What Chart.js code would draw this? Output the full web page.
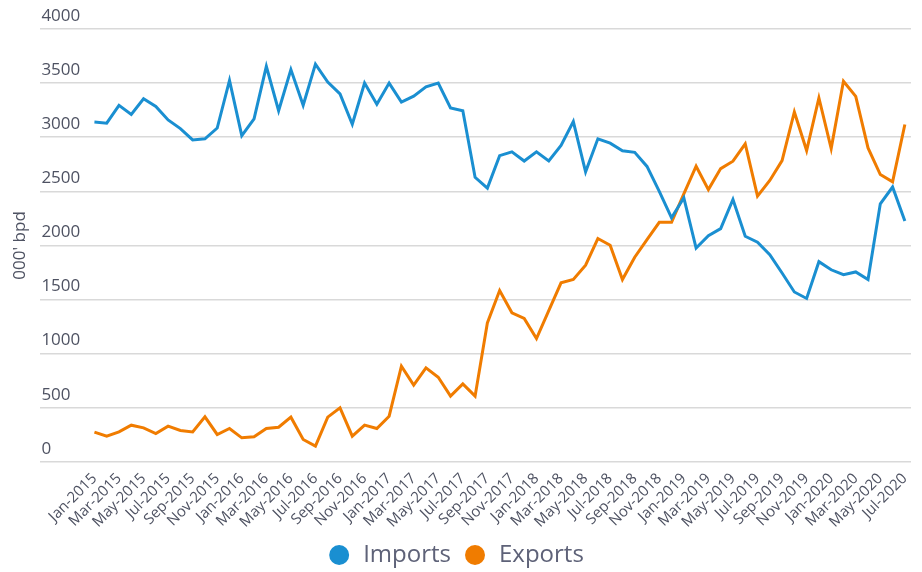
<!DOCTYPE html>
<html>
<head>
<meta charset="utf-8">
<script src="https://cdn.jsdelivr.net/npm/chart.js@4.4.1/dist/chart.umd.min.js"></script>
<style>
  html, body { margin: 0; padding: 0; background: #fff; }
  #wrap { width: 922px; height: 572px; }
</style>
</head>
<body>
<div id="wrap"><canvas id="myChart" width="922" height="572"></canvas></div>
<script>
var months = [
  "Jan-2015","Feb-2015","Mar-2015","Apr-2015","May-2015","Jun-2015","Jul-2015","Aug-2015","Sep-2015","Oct-2015","Nov-2015","Dec-2015",
  "Jan-2016","Feb-2016","Mar-2016","Apr-2016","May-2016","Jun-2016","Jul-2016","Aug-2016","Sep-2016","Oct-2016","Nov-2016","Dec-2016",
  "Jan-2017","Feb-2017","Mar-2017","Apr-2017","May-2017","Jun-2017","Jul-2017","Aug-2017","Sep-2017","Oct-2017","Nov-2017","Dec-2017",
  "Jan-2018","Feb-2018","Mar-2018","Apr-2018","May-2018","Jun-2018","Jul-2018","Aug-2018","Sep-2018","Oct-2018","Nov-2018","Dec-2018",
  "Jan-2019","Feb-2019","Mar-2019","Apr-2019","May-2019","Jun-2019","Jul-2019","Aug-2019","Sep-2019","Oct-2019","Nov-2019","Dec-2019",
  "Jan-2020","Feb-2020","Mar-2020","Apr-2020","May-2020","Jun-2020","Jul-2020"
];
var imports = [
  3140, 3130, 3295, 3210, 3355, 3285, 3160, 3080, 2975, 2985, 3085, 3525,
  3015, 3170, 3655, 3245, 3625, 3295, 3675, 3510, 3400, 3120, 3500, 3305,
  3500, 3325, 3380, 3465, 3500, 3270, 3245, 2630, 2530, 2830, 2865, 2780,
  2865, 2780, 2925, 3145, 2680, 2985, 2945, 2875, 2860, 2730, 2500, 2255,
  2440, 1975, 2090, 2155, 2425, 2085, 2030, 1915, 1745, 1570, 1510, 1850,
  1775, 1730, 1755, 1685, 2385, 2540, 2225
];
var exports = [
  275, 237, 277, 339, 314, 262, 330, 290, 277, 416, 253, 308,
  222, 231, 308, 320, 413, 207, 145, 413, 499, 237, 339, 308,
  422, 884, 709, 868, 782, 607, 721, 607, 1284, 1583, 1377, 1325,
  1140, 1398, 1654, 1685, 1817, 2064, 2002, 1685, 1891, 2054, 2214, 2214,
  2476, 2732, 2516, 2710, 2778, 2938, 2455, 2600, 2784, 3233, 2877, 3363,
  2895, 3517, 3378, 2901, 2655, 2587, 3117
];

var blue = '#1a8fd1';
var orange = '#f07c00';
var textCol = '#4e5262';

function points(arr) {
  return arr.map(function (v, i) { return { x: i, y: v }; });
}

var ctx = document.getElementById('myChart').getContext('2d');
var lineChart = new Chart(ctx, {
  type: 'line',
  data: {
    datasets: [{
      label: 'Imports',
      data: points(imports),
      borderColor: blue,
      backgroundColor: blue,
      borderWidth: 3,
      pointRadius: 0,
      tension: 0
    }, {
      label: 'Exports',
      data: points(exports),
      borderColor: orange,
      backgroundColor: orange,
      borderWidth: 3,
      pointRadius: 0,
      tension: 0
    }]
  },
  options: {
    responsive: false,
    animation: false,
    layout: { padding: { top: 29, right: 11, bottom: -5, left: 0 } },
    plugins: {
      tooltip: { enabled: false },
      legend: {
        position: 'bottom',
        labels: {
          usePointStyle: true,
          pointStyle: 'circle',
          boxWidth: 26,
          boxHeight: 12,
          padding: 12,
          color: '#5e6278',
          font: { family: 'Open Sans', size: 24 }
        }
      }
    },
    scales: {
      x: {
        type: 'linear',
        min: -4.4,
        max: 66.5,
        grid: { display: false },
        border: { display: false },
        ticks: {
          stepSize: 2,
          autoSkip: false,
          includeBounds: false,
          minRotation: 45,
          maxRotation: 45,
          padding: 0,
          color: textCol,
          font: { family: 'Open Sans', size: 15 },
          callback: function (v) { return months[v] || ''; }
        }
      },
      y: {
        min: 0,
        max: 4000,
        grid: { color: '#d9d9d9', lineWidth: 1.5, drawTicks: false },
        border: { display: false },
        ticks: {
          stepSize: 500,
          mirror: true,
          padding: 1,
          labelOffset: -13,
          color: textCol,
          font: { family: 'Open Sans', size: 17 },
          callback: function (v) { return String(v); }
        },
        title: {
          display: true,
          text: "000' bpd",
          color: textCol,
          font: { family: 'Open Sans', size: 17 },
          padding: { top: 10, bottom: 8 }
        }
      }
    }
  }
});
</script>
</body>
</html>
